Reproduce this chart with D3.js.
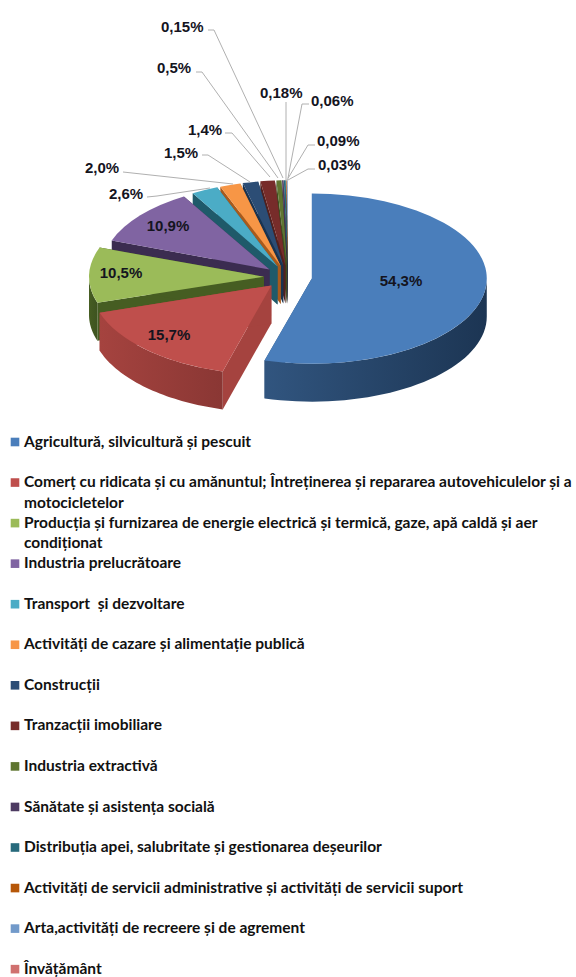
<!DOCTYPE html>
<html><head><meta charset="utf-8">
<script src="https://cdn.jsdelivr.net/npm/d3@7"></script>
<style>html,body{margin:0;padding:0;background:#fff}svg{display:block}</style>
</head><body><svg id="c" width="576" height="977"></svg>
<script>
const categories = ["Agricultură, silvicultură și pescuit",
"Comerț cu ridicata și cu amănuntul; Întreținerea și repararea autovehiculelor și a|motocicletelor",
"Producția și furnizarea de energie electrică și termică, gaze, apă caldă și aer|condiționat",
"Industria prelucrătoare","Transport  și dezvoltare","Activități de cazare și alimentație publică",
"Construcții","Tranzacții imobiliare","Industria extractivă","Sănătate și asistența socială",
"Distribuția apei, salubritate și gestionarea deșeurilor",
"Activități de servicii administrative și activități de servicii suport",
"Arta,activități de recreere și de agrement","Învățământ"];
const values = [54.3,15.7,10.5,10.9,2.6,2.0,1.5,1.4,0.5,0.15,0.18,0.06,0.09,0.03];
const valueLabels = ["54,3%","15,7%","10,5%","10,9%","2,6%","2,0%","1,5%","1,4%","0,5%","0,15%","0,18%","0,06%","0,09%","0,03%"];
const colors = ["#4a7ebb","#bf4f4c","#9bbb59","#8064a2","#4bacc6","#f79646","#2c4d75","#772c2a","#5f7530","#4d3b62","#276a7c","#b65708","#729aca","#d0716f"];
const wallA = ["#31557f","#a5433f","#465d22","#3b2c50","#1f5a6a","#a85a1c","#1a3350","#52201e","#3f4f20","#33273f","#1b4a57","#7c3b05","#4e6c90","#8e4c4b"];
const wallB = ["#1c3553","#8a3734","#3e5320","#33264a","#1a4e5c","#8f4c18","#162b44","#461b19","#35431b","#2b2136","#173f4a","#693204","#425b7a","#794140"];

// layout: the drawing's perspective makes front slices a little larger, back slices narrower
const cx=288, cy=277, rx=175, squash=0.486, depth=38, explode=24;
const perspectiveX=[1,1.03,1,0.96,0.95,0.95,0.95,0.95,0.95,0.95,0.95,0.95,0.95,0.95];
const perspectiveY=[1,1.05,1,1,1,1,1,1,1,1,1,1,1,1];
const inside = {0:[401,286],1:[169,340],2:[121,278],3:[168,231]};
const outside = { // text start x, baseline, leader polyline
 4:[109,199,[[147,197],[157,196],[210,188]]],
 5:[85,173,[[123,172],[233,184]]],
 6:[164,158,[[202,155],[208,155],[250,182]]],
 7:[188,135,[[225,133],[232,133],[270,177]]],
 8:[157,73,[[196,72],[202,72],[278,178]]],
 9:[161,32,[[208,30],[214,30],[283,178]]],
 10:[260,98,[[286,102],[286,180]]],
 11:[311,106,[[309,104],[302,104],[288,178]]],
 12:[317,146,[[315,145],[308,145],[287,180]]],
 13:[318,170,[[315,169],[308,169],[288,180]]]
};

const svg=d3.select("#c"), defs=svg.append("defs");
const arcs=d3.pie().sort(null)(values);
const arc=d3.arc().innerRadius(0).outerRadius(rx);
const g=svg.append("g");
const line=d3.line();
const order=[0].concat(d3.range(values.length-1,0,-1));
order.forEach(i=>{
  const a=arcs[i], mid=(a.startAngle+a.endAngle)/2;
  const kx=perspectiveX[i], ky=perspectiveY[i]*squash;
  const vx=cx+explode*Math.sin(mid), vy=cy-explode*Math.cos(mid)*squash;
  const P=t=>[vx+rx*kx*Math.sin(t), vy-rx*ky*Math.cos(t)];
  const gid="w"+i, lg=defs.append("linearGradient").attr("id",gid);
  lg.append("stop").attr("offset",0).attr("stop-color",wallA[i]);
  lg.append("stop").attr("offset",1).attr("stop-color",wallB[i]);
  const s=g.append("g");
  [a.startAngle,a.endAngle].forEach(t=>{
    const p=P(t);
    s.append("path").attr("fill",wallA[i]).attr("d",line([[vx,vy],p,[p[0],p[1]+depth],[vx,vy+depth]])+"Z");
  });
  const t0=Math.max(a.startAngle,Math.PI/2), t1=Math.min(a.endAngle,Math.PI*1.5);
  if(t1>t0){
    const top=d3.range(0,41).map(k=>P(t0+(t1-t0)*k/40));
    const bot=top.map(p=>[p[0],p[1]+depth]).reverse();
    s.append("path").attr("fill",`url(#${gid})`).attr("d",line(top.concat(bot))+"Z");
  }
  s.append("path").attr("fill",colors[i]).attr("d",arc(a))
   .attr("transform",`translate(${vx},${vy}) scale(${kx},${ky})`);
});

// leaders and labels
const lab=svg.append("g").attr("font-family","'Liberation Sans',Arial,sans-serif").attr("font-weight",700).attr("font-size",15).attr("fill","#14141e");
Object.entries(outside).forEach(([i,o])=>{
  svg.append("path").attr("d",line(o[2])).attr("fill","none").attr("stroke","#b0b0b0").attr("stroke-width",1);
  lab.append("text").attr("x",o[0]).attr("y",o[1]).text(valueLabels[i]);
});
Object.entries(inside).forEach(([i,o])=>{
  lab.append("text").attr("x",o[0]).attr("y",o[1]).attr("text-anchor","middle").text(valueLabels[i]);
});

// legend
const rowY=d3.scaleLinear().domain([0,1]).range([442,482.55]);
const leg=svg.append("g").attr("font-family","Lato,'Noto Sans',sans-serif").attr("font-weight",700).attr("font-size",15.5).attr("fill","#111");
categories.forEach((c,i)=>{
  const y=rowY(i);
  leg.append("rect").attr("x",10.7).attr("y",y-4.3).attr("width",8.6).attr("height",8.6).attr("fill",colors[i]);
  c.split("|").forEach((t,k)=>{
    leg.append("text").attr("x",24).attr("y",y+4.6+k*20.7).attr("xml:space","preserve").style("white-space","pre").text(t);
  });
});
</script></body></html>
